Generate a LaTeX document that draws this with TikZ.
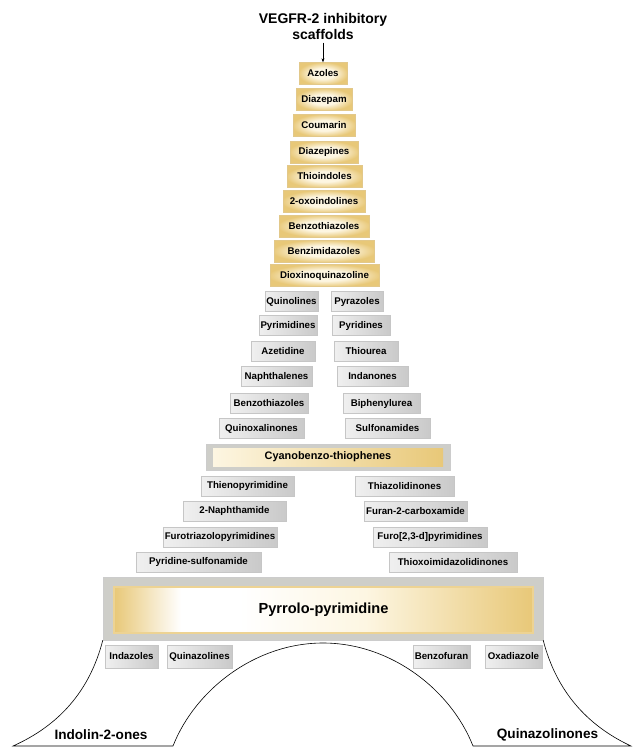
\documentclass[tikz,border=0pt]{standalone}
\usepackage{fontspec}
\setmainfont{Liberation Sans}
\usetikzlibrary{arrows.meta}

\definecolor{goldD}{RGB}{214,176,88}
\definecolor{goldM}{RGB}{232,200,120}
\definecolor{goldL}{RGB}{253,246,226}
\definecolor{frameGray}{RGB}{206,206,201}

% gold band with a light spot near the left end
\pgfdeclarehorizontalshading{pyrroshade}{100bp}{color(0bp)=(goldM); color(25bp)=(goldM);
  color(33bp)=(white); color(40bp)=(white); color(55bp)=(goldL); color(75bp)=(goldM); color(100bp)=(goldM)}
% cream centre, gold rim
\pgfdeclareradialshading{goldspot}{\pgfpoint{0bp}{0bp}}{color(0bp)=(goldL); color(12bp)=(goldL);
  color(26bp)=(goldM); color(50bp)=(goldM)}

\tikzset{
  boxfont/.style={font=\fontsize{9.7}{11}\selectfont\bfseries},
  goldbox/.style={boxfont, draw=goldD!70, shading=goldspot,
    minimum height=22, inner sep=0pt},
  greybox/.style={boxfont, draw=gray!45, left color=gray!12, right color=gray!42,
    minimum height=20, inner sep=0pt},
  greyframe/.style={fill=frameGray, draw=gray!40, inner sep=0pt},
  baselabel/.style={font=\fontsize{13.6}{15}\selectfont\bfseries}
}

\begin{document}
\begin{tikzpicture}[x=1pt,y=-1pt]
  \useasboundingbox (0,0) rectangle (632,747);

  % Title
  \node[font=\fontsize{14}{16}\selectfont\bfseries, align=center] (title) at (323,26)
    {VEGFR-2 inhibitory\\scaffolds};

  % Gold stack
  \node[goldbox, minimum width=48]  (azoles)   at (323,73.5)  {Azoles};
  \node[goldbox, minimum width=56]  (diazepam) at (324,99.5)  {Diazepam};
  \node[goldbox, minimum width=62]  (coumarin) at (324,125.5) {Coumarin};
  \node[goldbox, minimum width=68]  (diazepines) at (324,152) {Diazepines};
  \node[goldbox, minimum width=75]  (thioindoles) at (324.5,176.5) {Thioindoles};
  \node[goldbox, minimum width=82]  (oxoindolines) at (324,201.5) {2-oxoindolines};
  \node[goldbox, minimum width=90]  (benzothiazolesA) at (324,226) {Benzothiazoles};
  \node[goldbox, minimum width=100] (benzimidazoles) at (324,251) {Benzimidazoles};
  \node[goldbox, minimum width=109] (dioxino) at (324.5,275.5) {Dioxinoquinazoline};

  \draw[-{Stealth[length=4pt,width=3pt]}, thin] (title.south) -- (azoles.north);

  % Grey pairs, upper part
  \node[greybox, minimum width=53] (quinolines)  at (291.5,301.5) {Quinolines};
  \node[greybox, minimum width=52] (pyrazoles)   at (357,301.5)   {Pyrazoles};
  \node[greybox, minimum width=58] (pyrimidines) at (288,325.5)   {Pyrimidines};
  \node[greybox, minimum width=58] (pyridines)   at (361,325.5)   {Pyridines};
  \node[greybox, minimum width=64] (azetidine)   at (283,351)     {Azetidine};
  \node[greybox, minimum width=64] (thiourea)    at (366,351)     {Thiourea};
  \node[greybox, minimum width=71] (naphthalenes) at (276.5,376.5) {Naphthalenes};
  \node[greybox, minimum width=71] (indanones)   at (372.5,376.5) {Indanones};
  \node[greybox, minimum width=78] (benzothiazolesB) at (269,403.5) {Benzothiazoles};
  \node[greybox, minimum width=77] (biphenylurea) at (381.5,403.5) {Biphenylurea};
  \node[greybox, minimum width=85] (quinoxalinones) at (261.5,428.5) {Quinoxalinones};
  \node[greybox, minimum width=85] (sulfonamides) at (387.5,428.5) {Sulfonamides};

  % Cyanobenzo-thiophenes
  \node[greyframe, minimum width=244, minimum height=26] (cyanoframe) at (328,457) {};
  \node[boxfont, inner sep=0pt, minimum width=230, minimum height=18,
    left color=goldL, right color=goldM] (cyano) at (cyanoframe.center)
    {\fontsize{10.9}{12}\selectfont Cyanobenzo-thiophenes};

  % Grey pairs, lower part
  \node[greybox, minimum width=93]  (thienopyrimidine) at (247.5,486) {Thienopyrimidine};
  \node[greybox, minimum width=99]  (thiazolidinones)  at (404.5,486) {Thiazolidinones};
  \node[greybox, minimum width=103] (naphthamide)      at (234.5,511) {2-Naphthamide};
  \node[greybox, minimum width=103] (furancarbox)      at (415.5,511) {Furan-2-carboxamide};
  \node[greybox, minimum width=114] (furotriazolo)     at (220,537)   {Furotriazolopyrimidines};
  \node[greybox, minimum width=114] (furopyrimidines)  at (430,537)   {Furo[2,3-d]pyrimidines};
  \node[greybox, minimum width=125] (pyridinesulfon)   at (198.5,562) {Pyridine-sulfonamide};
  \node[greybox, minimum width=128] (thioxoimidazo)    at (453,562)   {Thioxoimidazolidinones};

  % Pyrrolo-pyrimidine base
  \node[greyframe, minimum width=440, minimum height=63] (pyrroframe) at (323,608.5) {};
  \node[inner sep=0pt, minimum width=419, minimum height=46, shading=pyrroshade,
    draw=goldM!80, line width=1.2pt,
    font=\fontsize{14.6}{16}\selectfont\bfseries] (pyrro) at (323.5,610) {Pyrrolo-pyrimidine};

  % Small boxes under the base
  \node[greybox, minimum width=53, minimum height=23] (indazoles)    at (131.5,656.5) {Indazoles};
  \node[greybox, minimum width=65, minimum height=23] (quinazolines) at (199.5,656.5) {Quinazolines};
  \node[greybox, minimum width=57, minimum height=23] (benzofuran)   at (441.5,656.5) {Benzofuran};
  \node[greybox, minimum width=57, minimum height=23] (oxadiazole)   at (513.5,656.5) {Oxadiazole};

  % Legs and arch
  \draw[line width=0.6pt] (pyrroframe.south west) .. controls (90,690) and (60,725) .. (13,746)
    -- (173,746) .. controls (195,690) and (255,643) .. (323,643)
    .. controls (391,643) and (451,690) .. (473,746)
    -- (631,746) .. controls (586,725) and (556,690) .. (pyrroframe.south east);

  % Labels on the legs
  \node[baselabel] (indolinones) at (101,735) {Indolin-2-ones};
  \node[baselabel] (quinazolinones) at (547.5,735) {Quinazolinones};
\end{tikzpicture}
\end{document}
